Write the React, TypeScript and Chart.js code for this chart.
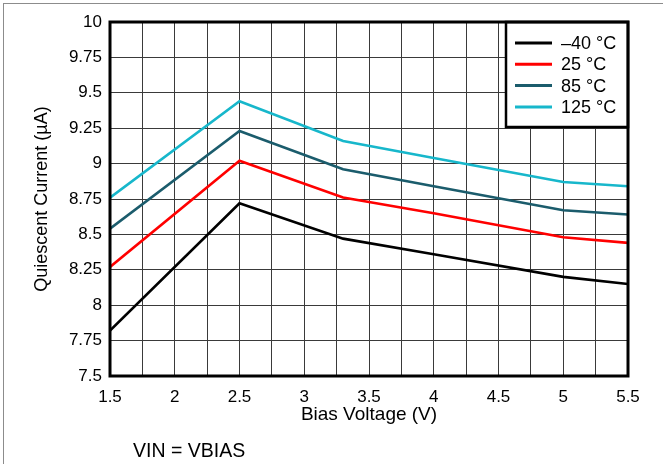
import React, { useEffect, useRef } from 'react';
import { Chart, registerables } from 'chart.js';

Chart.register(...registerables);

// ---- Data ----
const biasVoltage = [1.5, 2.5, 3.3, 4, 5, 5.5];
const currentMinus40 = [7.82, 8.72, 8.47, 8.36, 8.2, 8.15];
const current25 = [8.27, 9.02, 8.76, 8.65, 8.48, 8.44];
const current85 = [8.54, 9.23, 8.96, 8.84, 8.67, 8.64];
const current125 = [8.76, 9.44, 9.16, 9.04, 8.87, 8.84];
const seriesLabels = ['\u201340 \u00B0C', '25 \u00B0C', '85 \u00B0C', '125 \u00B0C'];
const seriesColors = ['#000000', '#ff0000', '#1b5c6c', '#17b7cb'];

const xGridValues = [1.5, 1.75, 2, 2.25, 2.5, 2.75, 3, 3.25, 3.5, 3.75, 4, 4.25, 4.5, 4.75, 5, 5.25, 5.5];
const xLabelValues = [1.5, 2, 2.5, 3, 3.5, 4, 4.5, 5, 5.5];
const xTickLabels = ['1.5', '2', '2.5', '3', '3.5', '4', '4.5', '5', '5.5'];
const yTickValues = [7.5, 7.75, 8, 8.25, 8.5, 8.75, 9, 9.25, 9.5, 9.75, 10];
const yTickLabels = ['7.5', '7.75', '8', '8.25', '8.5', '8.75', '9', '9.25', '9.5', '9.75', '10'];

const xTitle = 'Bias Voltage (V)';
const yTitle = 'Quiescent Current (\u00B5A)';
const noteText = 'VIN = VBIAS';

const FONT = '"Liberation Sans", Arial, sans-serif';

const framePlugin = {
  id: 'frameAndLegend',
  afterDatasetsDraw(chart: any) {
    const { ctx, chartArea: a } = chart;
    ctx.save();
    // legend box
    const bw = 122;
    const bh = 105;
    const bx = a.right - bw;
    const by = a.top;
    ctx.fillStyle = '#ffffff';
    ctx.fillRect(bx, by, bw, bh);
    ctx.lineWidth = 2.5;
    ctx.strokeStyle = '#000000';
    ctx.strokeRect(bx, by, bw, bh);
    chart.data.datasets.forEach((ds: any, i: number) => {
      const y = by + 21 + i * 21.3;
      ctx.beginPath();
      ctx.moveTo(bx + 9, y);
      ctx.lineTo(bx + 46, y);
      ctx.strokeStyle = ds.borderColor;
      ctx.lineWidth = 3;
      ctx.stroke();
      ctx.fillStyle = '#000000';
      ctx.font = `18px ${FONT}`;
      ctx.textBaseline = 'middle';
      ctx.textAlign = 'left';
      ctx.fillText(ds.label, bx + 55, y + 1);
    });
    // plot frame
    ctx.lineWidth = 3;
    ctx.strokeStyle = '#000000';
    ctx.strokeRect(a.left, a.top, a.right - a.left, a.bottom - a.top);
    // note
    ctx.fillStyle = '#000000';
    ctx.font = `19.5px ${FONT}`;
    ctx.textBaseline = 'middle';
    ctx.textAlign = 'left';
    ctx.fillText(noteText, 133, 452);
    ctx.restore();
  },
};

export default function App() {
  const canvasRef = useRef<HTMLCanvasElement | null>(null);

  useEffect(() => {
    const canvas = canvasRef.current;
    if (!canvas) return;
    const series = [currentMinus40, current25, current85, current125];
    const chart = new Chart(canvas, {
      type: 'line',
      data: {
        datasets: series.map((vals, i) => ({
          label: seriesLabels[i],
          data: vals.map((v, j) => ({ x: biasVoltage[j], y: v })),
          borderColor: seriesColors[i],
          backgroundColor: seriesColors[i],
          borderWidth: 2.6,
          pointRadius: 0,
          tension: 0,
          fill: false,
        })),
      },
      options: {
        responsive: false,
        animation: false,
        devicePixelRatio: 1,
        layout: { padding: { left: 0, top: 22, right: 35, bottom: 38 } },
        plugins: {
          legend: { display: false },
          tooltip: { enabled: false },
        },
        scales: {
          x: {
            type: 'linear',
            min: 1.5,
            max: 5.5,
            afterBuildTicks: (scale: any) => {
              scale.ticks = xGridValues.map((value) => ({ value }));
            },
            afterFit: (scale: any) => {
              scale.height = 50;
            },
            grid: { color: '#3a3a3a', lineWidth: 1, drawTicks: false },
            border: { display: false },
            ticks: {
              padding: 11,
              maxRotation: 0,
              autoSkip: false,
              color: '#000000',
              font: { family: FONT, size: 17 },
              callback: (value: any) => {
                const idx = xLabelValues.findIndex((v) => Math.abs(v - Number(value)) < 1e-9);
                return idx >= 0 ? xTickLabels[idx] : '';
              },
            },
            title: {
              display: true,
              text: xTitle,
              color: '#000000',
              font: { family: FONT, size: 19 },
              padding: { top: 0, bottom: 0 },
            },
          },
          y: {
            type: 'linear',
            min: 7.5,
            max: 10,
            afterBuildTicks: (scale: any) => {
              scale.ticks = yTickValues.map((value) => ({ value }));
            },
            afterFit: (scale: any) => {
              scale.width = 110;
            },
            grid: { color: '#3a3a3a', lineWidth: 1, drawTicks: false },
            border: { display: false },
            ticks: {
              padding: 8,
              autoSkip: false,
              color: '#000000',
              font: { family: FONT, size: 17 },
              callback: (_value: any, index: number) => yTickLabels[index],
            },
            title: {
              display: true,
              text: yTitle,
              color: '#000000',
              font: { family: FONT, size: 18 },
              padding: { top: 31, bottom: 0 },
            },
          },
        },
      },
      plugins: [framePlugin],
    });
    return () => chart.destroy();
  }, []);

  return (
    <div
      style={{
        position: 'absolute',
        left: 0,
        top: 0,
        width: 663,
        height: 464,
        background: '#ffffff',
        overflow: 'hidden',
      }}
    >
      <div
        style={{
          position: 'absolute',
          left: 3,
          top: 3,
          width: 700,
          height: 500,
          borderLeft: '1.5px solid #8c8c8c',
          borderTop: '1.5px solid #8c8c8c',
        }}
      />
      <canvas
        ref={canvasRef}
        width={663}
        height={464}
        style={{ position: 'absolute', left: 0, top: 0, width: 663, height: 464 }}
      />
    </div>
  );
}
